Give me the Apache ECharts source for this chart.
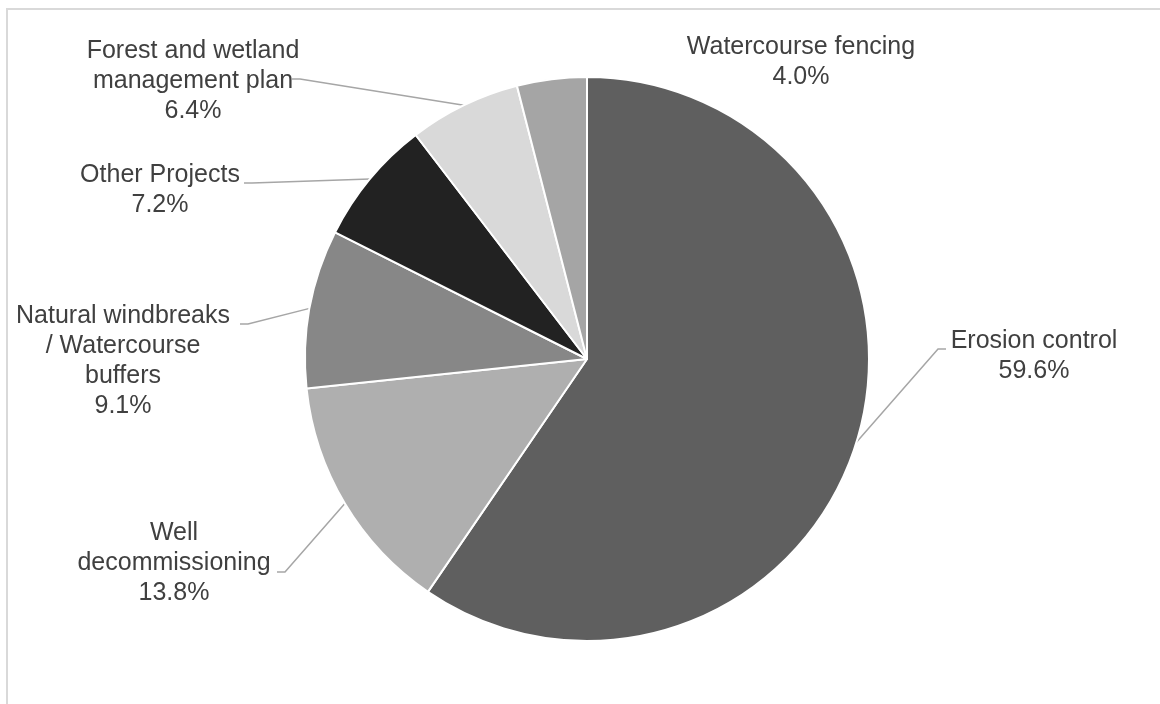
<!DOCTYPE html>
<html>
<head>
<meta charset="utf-8">
<script src="https://cdn.jsdelivr.net/npm/echarts@6/dist/echarts.min.js"></script>
<style>
html,body{margin:0;padding:0;background:#fff;}
#chart{width:1160px;height:704px;}
</style>
</head>
<body>
<div id="chart"></div>
<script>
// ---- data ----
const categories = [
  "Erosion control",
  "Well\ndecommissioning",
  "Natural windbreaks\n/ Watercourse\nbuffers",
  "Other Projects",
  "Forest and wetland\nmanagement plan",
  "Watercourse fencing"
];
const shares = [59.6, 13.8, 9.1, 7.2, 6.4, 4.0];
const sliceColors = ["#5f5f5f", "#afafaf", "#878787", "#222222", "#d9d9d9", "#a5a5a5"];

// ---- label placement (layout only): block centre x, block top y, leader anchor, side ----
const labelPlacement = [
  { x: 1034, y: 326, ax: 946, ay: 349, side: -1, line: true },
  { x: 174,  y: 518, ax: 277, ay: 572, side: 1,  line: true },
  { x: 123,  y: 301, ax: 240, ay: 324, side: 1,  line: true },
  { x: 160,  y: 160, ax: 244, ay: 183, side: 1,  line: true },
  { x: 193,  y: 36,  ax: 292, ay: 79,  side: 1,  line: true },
  { x: 801,  y: 32,  ax: 0,   ay: 0,   side: 1,  line: false }
];

const CX = 587, CY = 359, R = 282;
const total = shares.reduce((a, b) => a + b, 0);

function edgePoint(idx) {
  let start = 0;
  for (let i = 0; i < idx; i++) start += shares[i];
  const mid = (start + shares[idx] / 2) / total * Math.PI * 2;
  return [CX + R * Math.sin(mid), CY - R * Math.cos(mid)];
}

const chart = echarts.init(document.getElementById('chart'));
chart.setOption({
  backgroundColor: '#ffffff',
  animation: false,
  graphic: [{
    type: 'rect',
    shape: { x: 7, y: 9, width: 1400, height: 900 },
    style: { fill: 'none', stroke: '#d9d9d9', lineWidth: 2 },
    silent: true
  }],
  series: [{
    type: 'pie',
    center: [CX, CY],
    radius: R,
    startAngle: 90,
    clockwise: true,
    avoidLabelOverlap: false,
    itemStyle: { borderColor: '#ffffff', borderWidth: 2 },
    label: {
      show: true,
      position: 'outside',
      fontFamily: '"Liberation Sans", Arial, sans-serif',
      fontSize: 25,
      lineHeight: 30,
      color: '#404040',
      align: 'center',
      formatter: p => p.name + '\n' + p.value.toFixed(1) + '%'
    },
    labelLine: {
      show: true,
      length: 20,
      length2: 10,
      lineStyle: { color: '#a6a6a6', width: 1.5 }
    },
    labelLayout: function (params) {
      const pl = labelPlacement[params.dataIndex];
      const out = { x: pl.x, y: pl.y, align: 'center', verticalAlign: 'top' };
      if (pl.line) {
        const p0 = (params.labelLinePoints && params.labelLinePoints[0]) || edgePoint(params.dataIndex);
        out.labelLinePoints = [
          [p0[0], p0[1]],
          [pl.ax + pl.side * 8, pl.ay],
          [pl.ax, pl.ay]
        ];
      }
      return out;
    },
    data: categories.map((c, i) => ({
      name: c,
      value: shares[i],
      itemStyle: { color: sliceColors[i] },
      labelLine: { show: labelPlacement[i].line }
    }))
  }]
});
</script>
</body>
</html>
